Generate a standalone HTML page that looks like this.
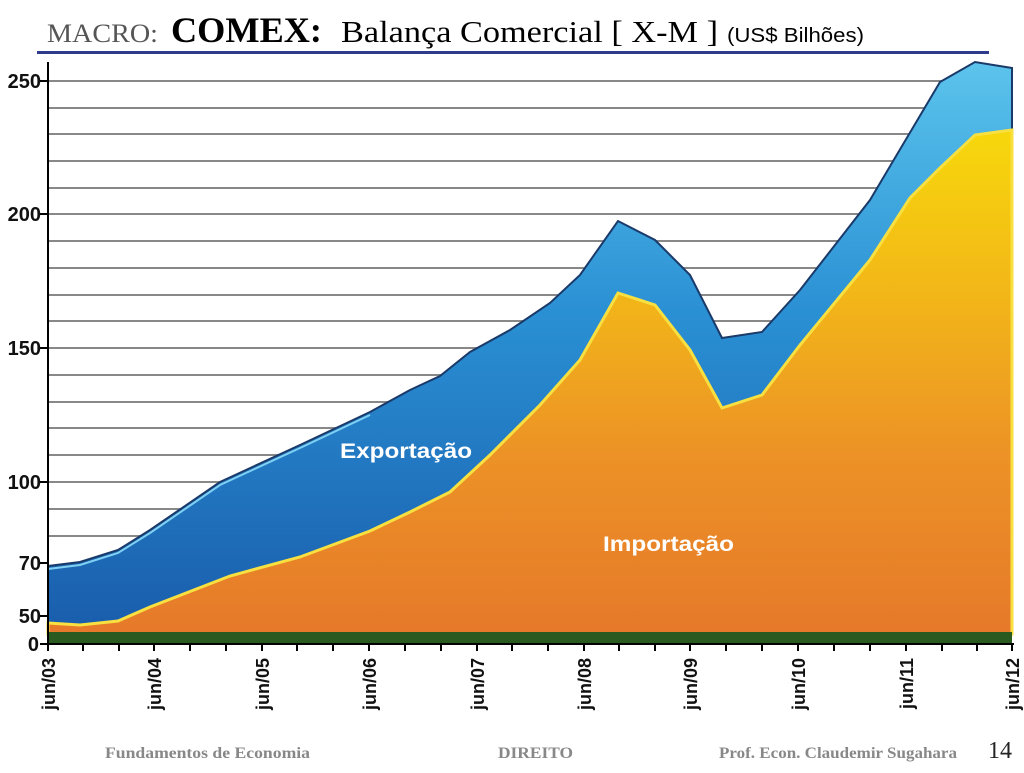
<!DOCTYPE html>
<html><head><meta charset="utf-8"><style>
body{margin:0;width:1024px;height:768px;background:#fff;overflow:hidden;font-family:"Liberation Sans",sans-serif}
</style></head><body>
<svg width="1024" height="768" xmlns="http://www.w3.org/2000/svg">
<defs>
<linearGradient id="blue" gradientUnits="userSpaceOnUse" x1="0" y1="60" x2="0" y2="620">
<stop offset="0" stop-color="#5cc4ec"/><stop offset="0.45" stop-color="#2a90d4"/><stop offset="1" stop-color="#1a5fae"/></linearGradient>
<linearGradient id="org" gradientUnits="userSpaceOnUse" x1="0" y1="130" x2="0" y2="630">
<stop offset="0" stop-color="#f7d80c"/><stop offset="0.35" stop-color="#f2b419"/><stop offset="0.65" stop-color="#ec9226"/><stop offset="1" stop-color="#e67a2a"/></linearGradient>
</defs>
<text x="47" y="42" font-family="Liberation Serif" font-size="26" fill="#555" textLength="111" lengthAdjust="spacingAndGlyphs">MACRO:</text>
<text x="171" y="42" font-family="Liberation Serif" font-size="36" font-weight="bold" textLength="151" lengthAdjust="spacingAndGlyphs">COMEX:</text>
<text x="341" y="42" font-family="Liberation Serif" font-size="31" textLength="377" lengthAdjust="spacingAndGlyphs">Balança Comercial [ X-M ]</text>
<text x="727" y="42" font-size="20" textLength="137" lengthAdjust="spacingAndGlyphs">(US$ Bilhões)</text>
<rect x="37" y="51" width="952" height="3" fill="#2e3a8c"/>
<g stroke="#888" stroke-width="2">
<line x1="48" y1="81" x2="1012" y2="81"/><line x1="48" y1="108" x2="1012" y2="108"/><line x1="48" y1="134" x2="1012" y2="134"/><line x1="48" y1="161" x2="1012" y2="161"/><line x1="48" y1="188" x2="1012" y2="188"/><line x1="48" y1="214" x2="1012" y2="214"/><line x1="48" y1="241" x2="1012" y2="241"/><line x1="48" y1="268" x2="1012" y2="268"/><line x1="48" y1="295" x2="1012" y2="295"/><line x1="48" y1="321" x2="1012" y2="321"/><line x1="48" y1="348" x2="1012" y2="348"/><line x1="48" y1="375" x2="1012" y2="375"/><line x1="48" y1="402" x2="1012" y2="402"/><line x1="48" y1="428" x2="1012" y2="428"/><line x1="48" y1="455" x2="1012" y2="455"/><line x1="48" y1="482" x2="1012" y2="482"/><line x1="48" y1="509" x2="1012" y2="509"/><line x1="48" y1="536" x2="1012" y2="536"/>
</g>
<path d="M48,566 L80,562 L118,550 L150,530 L220,482 L300,445 L370,412 L410,390 L440,376 L470,352 L510,330 L550,303 L580,275 L618,221 L655,240 L690,275 L722,338 L762,332 L800,290 L870,200 L940,82 L975,62 L1012,68 L1012,634 L48,634 Z" fill="url(#blue)" stroke="#1a3a6a" stroke-width="2"/>
<path d="M48,569 L80,565 L118,553 L150,533 L220,485 L300,448 L370,415" fill="none" stroke="#7fd0f2" stroke-width="2"/>
<path d="M48,623 L80,625 L118,621 L150,607 L230,576 L300,557 L370,531 L410,512 L450,492 L490,455 L540,405 L580,360 L618,293 L655,305 L690,350 L722,408 L762,395 L800,345 L870,260 L910,198 L940,168 L975,135 L1012,130 L1012,634 L48,634 Z" fill="url(#org)" stroke="#f8e040" stroke-width="3"/>
<rect x="48" y="632" width="964" height="11" fill="#2a5a20"/>
<line x1="48" y1="62" x2="48" y2="646" stroke="#000" stroke-width="2"/>
<line x1="40" y1="644" x2="1014" y2="644" stroke="#000" stroke-width="2"/>
<g stroke="#000" stroke-width="2">
<line x1="48" y1="644" x2="48" y2="651"/><line x1="83" y1="644" x2="83" y2="651"/><line x1="119" y1="644" x2="119" y2="651"/><line x1="154" y1="644" x2="154" y2="651"/><line x1="190" y1="644" x2="190" y2="651"/><line x1="226" y1="644" x2="226" y2="651"/><line x1="262" y1="644" x2="262" y2="651"/><line x1="297" y1="644" x2="297" y2="651"/><line x1="333" y1="644" x2="333" y2="651"/><line x1="369" y1="644" x2="369" y2="651"/><line x1="405" y1="644" x2="405" y2="651"/><line x1="441" y1="644" x2="441" y2="651"/><line x1="477" y1="644" x2="477" y2="651"/><line x1="512" y1="644" x2="512" y2="651"/><line x1="548" y1="644" x2="548" y2="651"/><line x1="584" y1="644" x2="584" y2="651"/><line x1="619" y1="644" x2="619" y2="651"/><line x1="655" y1="644" x2="655" y2="651"/><line x1="690" y1="644" x2="690" y2="651"/><line x1="726" y1="644" x2="726" y2="651"/><line x1="762" y1="644" x2="762" y2="651"/><line x1="798" y1="644" x2="798" y2="651"/><line x1="834" y1="644" x2="834" y2="651"/><line x1="870" y1="644" x2="870" y2="651"/><line x1="906" y1="644" x2="906" y2="651"/><line x1="942" y1="644" x2="942" y2="651"/><line x1="977" y1="644" x2="977" y2="651"/><line x1="1012" y1="644" x2="1012" y2="651"/>
<line x1="40" y1="81" x2="48" y2="81"/><line x1="40" y1="214" x2="48" y2="214"/><line x1="40" y1="348" x2="48" y2="348"/><line x1="40" y1="482" x2="48" y2="482"/><line x1="40" y1="563" x2="48" y2="563"/><line x1="40" y1="616" x2="48" y2="616"/>
</g>
<g font-size="20" font-weight="bold" text-anchor="end" fill="#111">
<text x="41" y="88">250</text><text x="41" y="221">200</text><text x="41" y="355">150</text><text x="41" y="489">100</text><text x="41" y="570">70</text><text x="41" y="623">50</text><text x="39" y="651">0</text>
</g>
<g font-size="18" font-weight="bold" text-anchor="end" fill="#111">
<text transform="translate(55,658) rotate(-90)">jun/03</text>
<text transform="translate(161,658) rotate(-90)">jun/04</text>
<text transform="translate(269,658) rotate(-90)">jun/05</text>
<text transform="translate(376,658) rotate(-90)">jun/06</text>
<text transform="translate(484,658) rotate(-90)">jun/07</text>
<text transform="translate(591,658) rotate(-90)">jun/08</text>
<text transform="translate(697,658) rotate(-90)">jun/09</text>
<text transform="translate(805,658) rotate(-90)">jun/10</text>
<text transform="translate(913,658) rotate(-90)">jun/11</text>
<text transform="translate(1019,658) rotate(-90)">jun/12</text>
</g>
<text x="340" y="458" font-size="21" font-weight="bold" fill="#fff" textLength="132" lengthAdjust="spacingAndGlyphs">Exportação</text>
<text x="603" y="551" font-size="21" font-weight="bold" fill="#fff" textLength="131" lengthAdjust="spacingAndGlyphs">Importação</text>
<g font-family="Liberation Serif" font-size="16" font-weight="bold" fill="#888">
<text x="105" y="758" textLength="205" lengthAdjust="spacingAndGlyphs">Fundamentos  de  Economia</text>
<text x="498" y="758" textLength="75" lengthAdjust="spacingAndGlyphs">DIREITO</text>
<text x="719" y="758" textLength="238" lengthAdjust="spacingAndGlyphs">Prof. Econ. Claudemir Sugahara</text>
</g>
<text x="988" y="758" font-family="Liberation Serif" font-size="24" fill="#222">14</text>
</svg>
</body></html>
